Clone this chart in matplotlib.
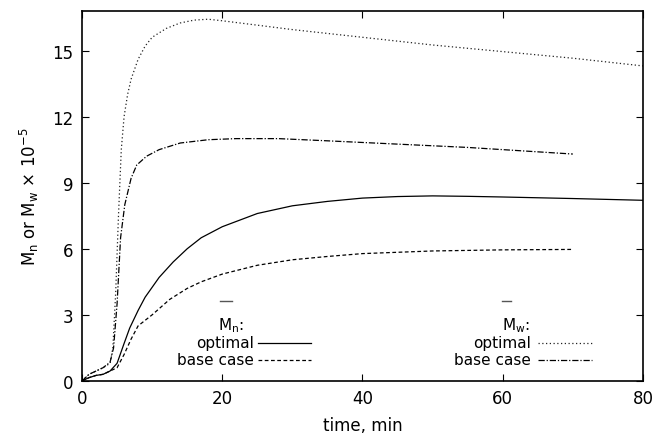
import numpy as np
import matplotlib
matplotlib.use("Agg")
import matplotlib.pyplot as plt

# --- data ---
t_mw_opt = [0, 1, 2, 3, 4, 4.4, 4.8, 5.2, 5.6, 6.0, 6.5, 7, 8, 9, 10, 12, 14, 16, 18,
            20, 25, 30, 40, 50, 60, 70, 80]
mw_opt = [0, 0.3, 0.45, 0.6, 0.8, 1.5, 4.0, 7.5, 10.5, 12.0, 13.0, 13.7, 14.6, 15.2, 15.6,
          16.0, 16.25, 16.38, 16.42, 16.35, 16.15, 15.95, 15.6, 15.25, 14.95, 14.65, 14.3]

t_mw_base = [0, 1, 2, 3, 4, 4.5, 5.0, 5.5, 6.1, 7, 7.8, 9.2, 11, 14, 18, 22, 28, 35, 45,
             55, 65, 70]
mw_base = [0, 0.3, 0.45, 0.6, 0.85, 1.5, 3.5, 6.5, 8.0, 9.2, 9.8, 10.2, 10.5, 10.8, 10.95,
           11.0, 11.0, 10.9, 10.75, 10.6, 10.4, 10.3]

t_mn_opt = [0, 1, 2, 3, 4, 5, 6, 6.8, 8, 9, 11, 13, 15, 17, 20, 25, 30, 35, 40, 45, 50,
            55, 60, 70, 80]
mn_opt = [0, 0.15, 0.25, 0.3, 0.45, 0.8, 1.7, 2.4, 3.2, 3.8, 4.7, 5.4, 6.0, 6.5, 7.0,
          7.6, 7.95, 8.15, 8.3, 8.37, 8.4, 8.38, 8.35, 8.28, 8.2]

t_mn_base = [0, 1, 2, 3, 4, 5, 6, 7, 8, 10, 12.5, 15, 17, 20, 25, 30, 35, 40, 50, 60, 70]
mn_base = [0, 0.15, 0.25, 0.3, 0.45, 0.6, 1.2, 1.9, 2.5, 3.0, 3.7, 4.2, 4.5, 4.85, 5.25,
           5.5, 5.65, 5.78, 5.9, 5.95, 5.97]

x_ticks = [0, 20, 40, 60, 80]
y_ticks = [0, 3, 6, 9, 12, 15]

ls_solid = '-'
ls_dash = (0, (3, 2))
ls_dot = (0, (1, 2))
ls_dashdot = (0, (5, 1.5, 1, 1.5))

fig = plt.figure(figsize=(6.53, 4.39), dpi=100)
ax = fig.add_axes([0.1256, 0.13, 0.859, 0.843])

ax.plot(t_mn_opt, mn_opt, color='black', lw=0.9, linestyle=ls_solid)
ax.plot(t_mn_base, mn_base, color='black', lw=0.9, linestyle=ls_dash)
ax.plot(t_mw_opt, mw_opt, color='#222222', lw=0.9, linestyle=ls_dot)
ax.plot(t_mw_base, mw_base, color='black', lw=0.9, linestyle=ls_dashdot)

ax.set_xlim(0, 80)
ax.set_ylim(0, 16.8)
ax.set_xticks(x_ticks)
ax.set_yticks(y_ticks)
ax.tick_params(direction='in', top=True, right=True, length=5, width=0.8,
               labelsize=12, pad=6)
for s in ax.spines.values():
    s.set_linewidth(1.2)

ax.set_xlabel('time, min', fontsize=12, labelpad=6)
ax.set_ylabel(r'M$_\mathrm{n}$ or M$_\mathrm{w}$ $\times$ 10$^{-5}$', fontsize=12, labelpad=8)

# custom legend blocks
tr = ax.transAxes
fs = 11
ax.text(0.242, 0.152, r'M$_\mathrm{n}$:', transform=tr, fontsize=fs, ha='left', va='center')
ax.plot([0.246, 0.267], [0.215, 0.215], transform=tr, color='#555555', lw=1)
ax.text(0.307, 0.103, 'optimal', transform=tr, fontsize=fs, ha='right', va='center')
ax.text(0.307, 0.057, 'base case', transform=tr, fontsize=fs, ha='right', va='center')
ax.plot([0.314, 0.408], [0.103, 0.103], transform=tr, color='black', lw=0.9, linestyle=ls_solid)
ax.plot([0.314, 0.408], [0.057, 0.057], transform=tr, color='black', lw=0.9, linestyle=ls_dash)

ax.text(0.749, 0.152, r'M$_\mathrm{w}$:', transform=tr, fontsize=fs, ha='left', va='center')
ax.plot([0.749, 0.764], [0.215, 0.215], transform=tr, color='#555555', lw=1)
ax.text(0.800, 0.103, 'optimal', transform=tr, fontsize=fs, ha='right', va='center')
ax.text(0.800, 0.057, 'base case', transform=tr, fontsize=fs, ha='right', va='center')
ax.plot([0.813, 0.909], [0.103, 0.103], transform=tr, color='#222222', lw=0.9, linestyle=ls_dot)
ax.plot([0.813, 0.909], [0.057, 0.057], transform=tr, color='black', lw=0.9, linestyle=ls_dashdot)

fig.savefig('out.png', dpi=100)
